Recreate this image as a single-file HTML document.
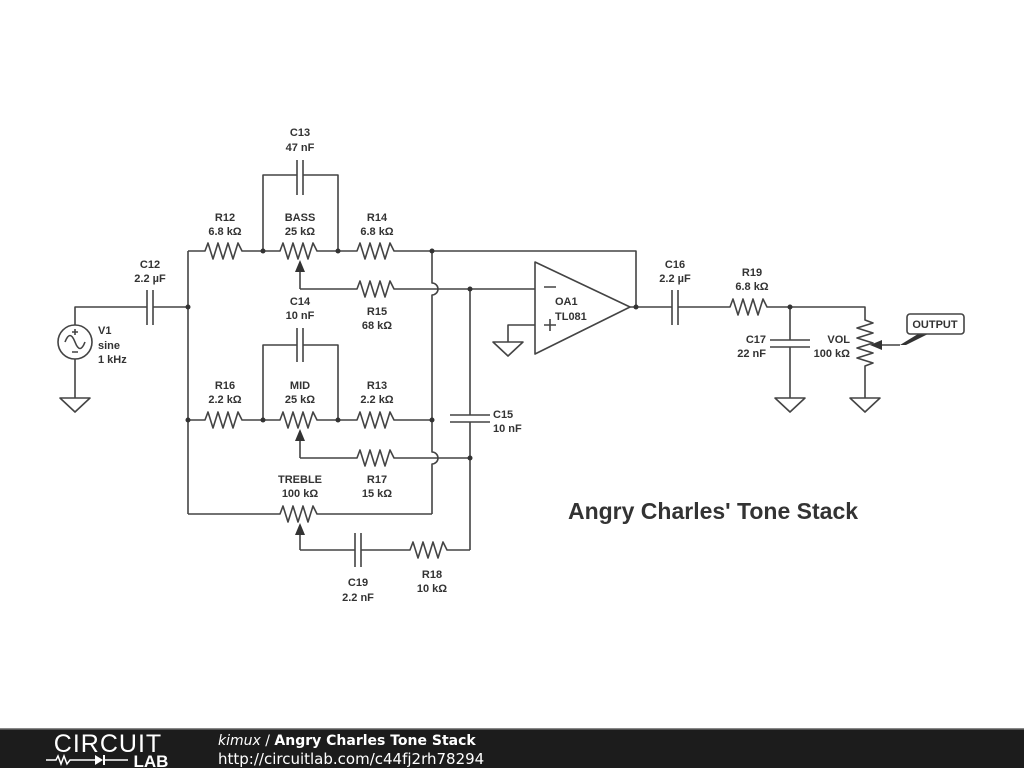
<!DOCTYPE html>
<html><head><meta charset="utf-8"><style>
html,body{margin:0;padding:0;background:#fff;width:1024px;height:768px;overflow:hidden}
svg{display:block}
text{font-family:"Liberation Sans",sans-serif;font-weight:bold;font-size:11px;fill:#333;text-anchor:middle}
</style></head><body>
<svg width="1024" height="768" viewBox="0 0 1024 768" xmlns="http://www.w3.org/2000/svg">
<g fill="none" stroke="#444" stroke-width="1.6" stroke-linejoin="round">
<!-- V1 -->
<circle cx="75" cy="342" r="17"/>
<path d="M65 342 Q70 329 75 342 T85 342"/>
<path d="M72 332 H78 M75 329 V335 M72 352 H78"/>
<path d="M75 325 V307 H147 M153 307 H188"/>
<path d="M147 290 V325 M153 290 V325"/>
<path d="M75 359 V398 M60 398 H90 L75 412 Z"/>
<path d="M188 251 V514"/>
<!-- top branch -->
<path d="M188 251 H205 l3 -8 l5 16 l5 -16 l5 16 l5 -16 l5 16 l5 -16 l4 8 H280 l3 -8 l5 16 l5 -16 l5 16 l5 -16 l5 16 l5 -16 l4 8 H357 l3 -8 l5 16 l5 -16 l5 16 l5 -16 l5 16 l5 -16 l4 8 H636 V307"/>
<path d="M263 251 V175 H297 M303 175 H338 V251 M297 160 V195 M303 160 V195"/>
<path d="M300 289 V268 M300 289 H357 l3 -8 l5 16 l5 -16 l5 16 l5 -16 l5 16 l5 -16 l4 8 H535"/>
<path d="M432 251 V283 a6 6 0 0 1 0 12 V452 a6 6 0 0 1 0 12 V514"/>
<path d="M470 289 V415 M470 422 V550 M450 415 H490 M450 422 H490"/>
<!-- mid branch -->
<path d="M188 420 H205 l3 -8 l5 16 l5 -16 l5 16 l5 -16 l5 16 l5 -16 l4 8 H280 l3 -8 l5 16 l5 -16 l5 16 l5 -16 l5 16 l5 -16 l4 8 H357 l3 -8 l5 16 l5 -16 l5 16 l5 -16 l5 16 l5 -16 l4 8 H432"/>
<path d="M263 420 V345 H297 M303 345 H338 V420 M297 328 V362 M303 328 V362"/>
<path d="M300 458 V437 M300 458 H357 l3 -8 l5 16 l5 -16 l5 16 l5 -16 l5 16 l5 -16 l4 8 H470"/>
<!-- treble -->
<path d="M188 514 H280 l3 -8 l5 16 l5 -16 l5 16 l5 -16 l5 16 l5 -16 l4 8 H432"/>
<path d="M300 550 V531 M300 550 H355 M361 550 H410 l3 -8 l5 16 l5 -16 l5 16 l5 -16 l5 16 l5 -16 l4 8 H470 M355 533 V567 M361 533 V567"/>
<!-- opamp -->
<path d="M535 262 L630 307 L535 354 Z"/>
<path d="M535 325 H508 V342 M493 342 H523 L508 356 Z"/>
<path d="M630 307 H672 M678 307 H730 l3 -8 l5 16 l5 -16 l5 16 l5 -16 l5 16 l5 -16 l4 8 H865 V320 l8 3 l-16 5 l16 5 l-16 5 l16 5 l-16 5 l16 5 l-16 5 l16 5 l-8 3 V398"/>
<path d="M672 290 V325 M678 290 V325"/>
<path d="M790 307 V340 M790 347 V398 M770 340 H810 M770 347 H810"/>
<path d="M775 398 H805 L790 412 Z M850 398 H880 L865 412 Z"/>
<path d="M900 345 H878"/>
<path d="M544 287 H556 M544 325 H556 M550 319 V331"/>
</g>
<g fill="#333">
<polygon points="300,260 295,272 305,272"/>
<polygon points="300,429 295,441 305,441"/>
<polygon points="300,523 295,535 305,535"/>
<polygon points="870,345 882,340 882,350"/>
<polygon points="900,345 918,334 928,334 906,345"/>
<circle cx="188" cy="307" r="2.5"/><circle cx="188" cy="420" r="2.5"/>
<circle cx="263" cy="251" r="2.5"/><circle cx="338" cy="251" r="2.5"/><circle cx="432" cy="251" r="2.5"/>
<circle cx="263" cy="420" r="2.5"/><circle cx="338" cy="420" r="2.5"/><circle cx="432" cy="420" r="2.5"/>
<circle cx="470" cy="289" r="2.5"/><circle cx="470" cy="458" r="2.5"/>
<circle cx="636" cy="307" r="2.5"/><circle cx="790" cy="307" r="2.5"/>
</g>
<rect x="907" y="314" width="57" height="20" rx="3" fill="#fff" stroke="#444" stroke-width="1.6"/>
<text x="935" y="328">OUTPUT</text>
<text x="300" y="136">C13</text><text x="300" y="151">47 nF</text>
<text x="225" y="221">R12</text><text x="225" y="235">6.8 kΩ</text>
<text x="300" y="221">BASS</text><text x="300" y="235">25 kΩ</text>
<text x="377" y="221">R14</text><text x="377" y="235">6.8 kΩ</text>
<text x="150" y="268">C12</text><text x="150" y="282">2.2 µF</text>
<text x="300" y="305">C14</text><text x="300" y="319">10 nF</text>
<text x="377" y="315">R15</text><text x="377" y="329">68 kΩ</text>
<text x="98" y="334" style="text-anchor:start">V1</text><text x="98" y="349" style="text-anchor:start">sine</text><text x="98" y="363" style="text-anchor:start">1 kHz</text>
<text x="555" y="305" style="text-anchor:start">OA1</text><text x="555" y="320" style="text-anchor:start">TL081</text>
<text x="493" y="418" style="text-anchor:start">C15</text><text x="493" y="432" style="text-anchor:start">10 nF</text>
<text x="225" y="389">R16</text><text x="225" y="403">2.2 kΩ</text>
<text x="300" y="389">MID</text><text x="300" y="403">25 kΩ</text>
<text x="377" y="389">R13</text><text x="377" y="403">2.2 kΩ</text>
<text x="300" y="483">TREBLE</text><text x="300" y="497">100 kΩ</text>
<text x="377" y="483">R17</text><text x="377" y="497">15 kΩ</text>
<text x="358" y="586">C19</text><text x="358" y="601">2.2 nF</text>
<text x="432" y="578">R18</text><text x="432" y="592">10 kΩ</text>
<text x="675" y="268">C16</text><text x="675" y="282">2.2 µF</text>
<text x="752" y="276">R19</text><text x="752" y="290">6.8 kΩ</text>
<text x="766" y="343" style="text-anchor:end">C17</text><text x="766" y="357" style="text-anchor:end">22 nF</text>
<text x="850" y="343" style="text-anchor:end">VOL</text><text x="850" y="357" style="text-anchor:end">100 kΩ</text>
<text x="713" y="519" style="font-size:23px">Angry Charles' Tone Stack</text>
<!-- footer -->
<rect x="0" y="729" width="1024" height="39" fill="#1c1c1c"/>
<rect x="0" y="728" width="1024" height="1.5" fill="#888"/>
<text x="108" y="752" style="font-size:25px;font-weight:normal;fill:#fff;letter-spacing:1px">CIRCUIT</text>
<path d="M46 760 H56 l2 -4 l3 8 l3 -8 l3 8 l3 -4 H96 M104 760 H128" stroke="#fff" stroke-width="1.5" fill="none"/>
<polygon points="95,755 95,765 103,760" fill="#fff"/><rect x="103" y="755" width="2" height="10" fill="#fff"/>
<text x="151" y="767" style="font-size:17px;fill:#fff">LAB</text>
<text x="218" y="745" style="font-size:14px;fill:#fff;text-anchor:start;font-family:'DejaVu Sans',sans-serif"><tspan style="font-style:italic;font-weight:normal">kimux</tspan><tspan style="font-weight:normal"> / </tspan>Angry Charles Tone Stack</text>
<text x="218" y="764" style="font-size:15px;font-weight:normal;fill:#fff;text-anchor:start;font-family:'DejaVu Sans',sans-serif">http://circuitlab.com/c44fj2rh78294</text>
</svg>
</body></html>
